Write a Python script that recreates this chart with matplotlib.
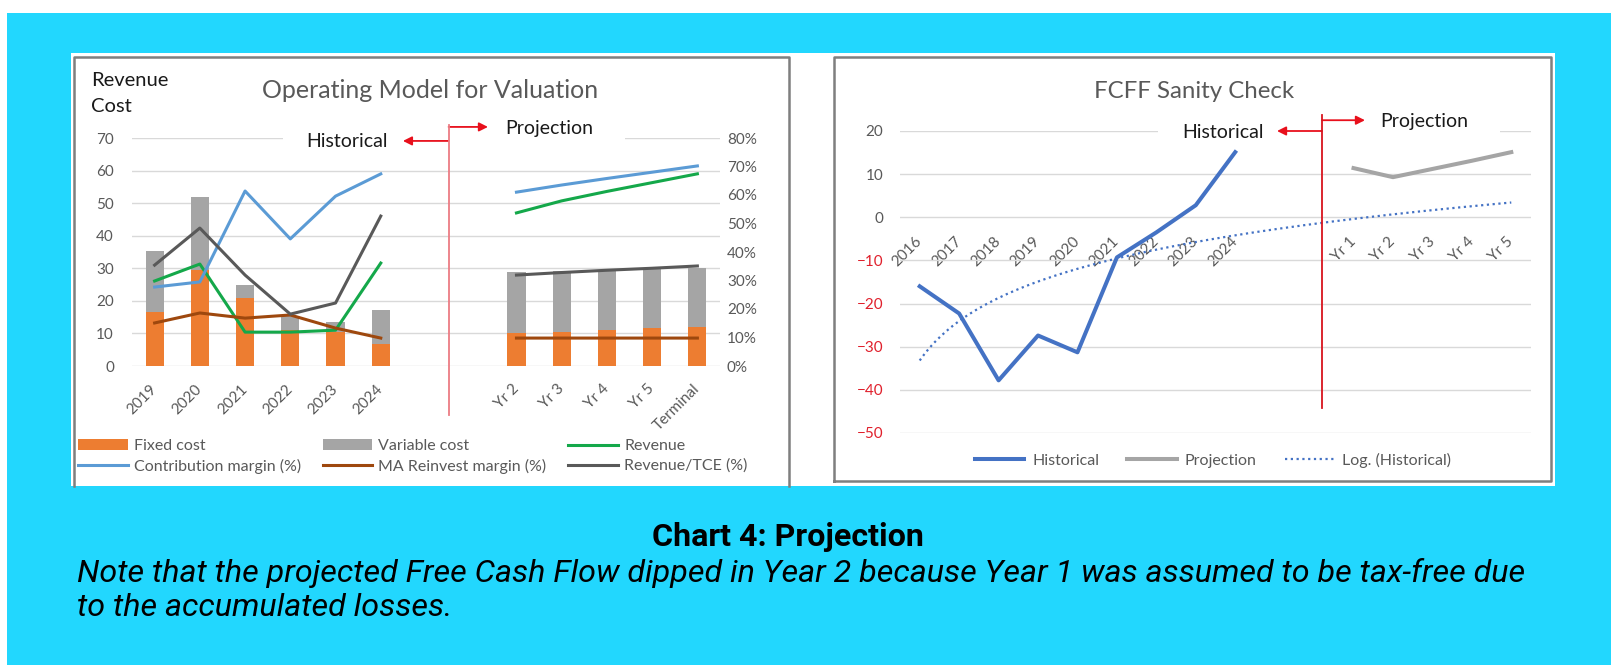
import numpy as np
import matplotlib.pyplot as plt
from matplotlib.patches import Rectangle
from matplotlib.lines import Line2D

plt.rcParams["font.family"] = ["Lato", "DejaVu Sans"]

nan = np.nan

# ---- left chart: Operating Model for Valuation
op_labels = ["2019", "2020", "2021", "2022", "2023", "2024", "", "",
             "Yr 2", "Yr 3", "Yr 4", "Yr 5", "Terminal"]
fixed_cost = [16.5, 29.5, 20.9, 11.0, 10.5, 6.8, nan, nan, 10.1, 10.5, 11.0, 11.6, 12.0]
variable_cost = [18.8, 22.3, 3.9, 4.5, 3.0, 10.4, nan, nan, 18.7, 18.6, 18.4, 18.4, 18.0]
revenue = [26.1, 31.3, 10.4, 10.4, 11.0, 31.6, nan, nan, 47.0, 50.7, 53.6, 56.3, 59.0]
contrib_margin = [27.7, 29.5, 61.4, 44.6, 59.6, 67.4, nan, nan, 61.0, 63.5, 65.8, 68.0, 70.2]
ma_reinvest = [15.1, 18.6, 16.8, 17.9, 13.3, 9.8, nan, nan, 9.8, 9.8, 9.8, 9.8, 9.8]
rev_tce = [35.4, 48.4, 31.9, 18.2, 22.1, 52.6, nan, nan, 31.9, 32.8, 33.6, 34.3, 35.1]

# ---- right chart: FCFF Sanity Check
fcff_labels = ["2016", "2017", "2018", "2019", "2020", "2021", "2022", "2023", "2024",
               "", "", "Yr 1", "Yr 2", "Yr 3", "Yr 4", "Yr 5"]
fcff_hist = [-16.0, -22.3, -37.8, -27.4, -31.3, -9.3, -3.5, 2.8, 15.1,
             nan, nan, nan, nan, nan, nan, nan]
fcff_proj = [nan] * 11 + [11.4, 9.3, 11.2, 13.1, 15.1]

CYAN = "#22D7FE"
GRID = "#D9D9D9"
TXT = "#595959"
FS = 11.5

W, H = 1611, 665
fig = plt.figure(figsize=(W / 100, H / 100), dpi=100, facecolor="white")


def fx(px):
    return px / W


def fy(py):
    return 1 - py / H


def box(x0, y0, x1, y1):
    return [fx(x0), fy(y1), (x1 - x0) / W, (y1 - y0) / H]


def frame_line(xs, ys, **kw):
    fig.add_artist(Line2D([fx(v) for v in xs], [fy(v) for v in ys],
                          transform=fig.transFigure, **kw))


# background + white panel + chart frames
fig.add_artist(Rectangle((fx(7), 0), 1 - fx(7), fy(13), transform=fig.transFigure,
                         facecolor=CYAN, edgecolor="none", zorder=-10))
fig.add_artist(Rectangle((fx(71), fy(486)), (1555 - 71) / W, (486 - 53) / H,
                         transform=fig.transFigure, facecolor="white",
                         edgecolor="none", zorder=-9))
frame_line([74, 74, 789, 789], [486, 57, 57, 486], color="#7F7F7F", lw=1.8, zorder=-8)
frame_line([834, 834, 1551, 1551, 834], [481, 57, 57, 481, 481], color="#7F7F7F",
           lw=1.8, zorder=-8)

# ================= left chart =================
ax = fig.add_axes(box(132, 138, 720, 366))
ax.set_facecolor("none")
x = np.arange(len(op_labels))
b1 = ax.bar(x, fixed_cost, width=0.4, color="#ED7D31", label="Fixed cost", zorder=2)
b2 = ax.bar(x, variable_cost, bottom=fixed_cost, width=0.4, color="#A5A5A5",
            label="Variable cost", zorder=2)
l_rev, = ax.plot(x, revenue, color="#14A84A", lw=2.2, label="Revenue", zorder=3)
ax.set_xlim(-0.5, len(op_labels) - 0.5)
ax.set_ylim(0, 70)
ax.set_yticks(range(0, 71, 10))
ax.yaxis.grid(True, color=GRID, lw=1)
ax.set_axisbelow(True)
ax.set_xticks(x)
ax.set_xticklabels(op_labels, rotation=45, ha="right", va="center",
                   rotation_mode="anchor")
ax.tick_params(length=0, labelsize=11, labelcolor=TXT)
ax.tick_params(axis="x", pad=15)
ax.tick_params(axis="y", pad=13)
for s in ax.spines.values():
    s.set_visible(False)

ax2 = ax.twinx()
l_cm, = ax2.plot(x, contrib_margin, color="#5B9BD5", lw=2.2, label="Contribution margin (%)")
l_ma, = ax2.plot(x, ma_reinvest, color="#9E480E", lw=2.2, label="MA Reinvest margin (%)")
l_rt, = ax2.plot(x, rev_tce, color="#595959", lw=2.2, label="Revenue/TCE (%)")
ax2.set_ylim(0, 80)
ax2.set_yticks(range(0, 81, 10))
ax2.set_yticklabels([f"{v}%" for v in range(0, 81, 10)])
ax2.tick_params(length=0, labelsize=11, labelcolor=TXT, pad=5)
for s in ax2.spines.values():
    s.set_visible(False)

# historical / projection divider
ax.add_patch(Rectangle((2.84, 66), 10.4 - 2.84, 6, facecolor="white", edgecolor="none",
                       zorder=1))
ax.plot([6.5, 6.5], [74.0, -15.0], color="#EC7C84", lw=1.3, clip_on=False, zorder=4)
arrow = dict(arrowstyle="-|>", color="#E8101C", lw=1.3, mutation_scale=13,
             shrinkA=0, shrinkB=0)
ax.annotate("", xy=(5.49, 69.1), xytext=(6.5, 69.1), arrowprops=arrow,
            annotation_clip=False)
ax.annotate("", xy=(7.37, 73.4), xytext=(6.5, 73.4), arrowprops=arrow,
            annotation_clip=False)
ax.text(5.16, 68.9, "Historical", ha="right", va="center", fontsize=14,
        color="#1A1A1A", zorder=5)
ax.text(7.75, 72.9, "Projection", ha="left", va="center", fontsize=14,
        color="#1A1A1A", zorder=5, clip_on=False)

fig.text(fx(91), fy(80), "Revenue", fontsize=14.5, color="#1A1A1A", va="center")
fig.text(fx(91), fy(106), "Cost", fontsize=14.5, color="#1A1A1A", va="center")
fig.text(fx(262), fy(91), "Operating Model for Valuation", fontsize=18, color=TXT,
         va="center")

fig.legend(handles=[b1, l_cm, b2, l_ma, l_rev, l_rt], ncol=3, frameon=False,
           loc="upper left", bbox_to_anchor=(fx(78), fy(439)), borderaxespad=0,
           borderpad=0, fontsize=FS, labelcolor=TXT, handlelength=3.1,
           handletextpad=0.4, columnspacing=1.35, labelspacing=0.35)

# ================= right chart =================
ax3 = fig.add_axes(box(900, 131, 1531, 433))
ax3.set_facecolor("none")
for s in ax3.spines.values():
    s.set_color("none")
ax3.spines["bottom"].set_position(("data", 0))

xr = np.arange(len(fcff_labels))
h_hist, = ax3.plot(xr, fcff_hist, color="#4472C4", lw=2.9, label="Historical", zorder=3)
h_proj, = ax3.plot(xr, fcff_proj, color="#A5A5A5", lw=2.9, label="Projection", zorder=3)

# logarithmic trendline fitted to the historical series, extended to Yr 5
hist = np.array(fcff_hist)
t = np.arange(1, len(hist) + 1)
ok = ~np.isnan(hist)
a, b = np.polyfit(np.log(t[ok]), hist[ok], 1)
tt = np.linspace(1, len(fcff_labels), 200)
h_log, = ax3.plot(tt - 1, a * np.log(tt) + b, color="#4472C4", lw=1.6,
                  ls=(0, (1, 1.6)), label="Log. (Historical)", zorder=3)

ax3.set_xlim(-0.5, len(fcff_labels) - 0.5)
ax3.set_ylim(-50, 20)
yt = list(range(-50, 21, 10))
ax3.set_yticks(yt)
ax3.yaxis.grid(True, color=GRID, lw=1)
ax3.set_axisbelow(True)
ax3.set_xticks(xr)
ax3.set_xticklabels(fcff_labels, rotation=45, ha="right", va="center",
                    rotation_mode="anchor")
ax3.tick_params(length=0, labelsize=11, labelcolor=TXT)
ax3.tick_params(axis="x", pad=16)
ax3.tick_params(axis="y", pad=12)
for lbl, v in zip(ax3.get_yticklabels(), yt):
    lbl.set_color("#E0202C" if v < 0 else TXT)

ax3.add_patch(Rectangle((6.04, 18), 14.71 - 6.04, 6, facecolor="white",
                        edgecolor="none", zorder=1, clip_on=False))
ax3.plot([10.2, 10.2], [23.7, -44.1], color="#D8141E", lw=1.3, clip_on=False, zorder=4)
ax3.annotate("", xy=(9.06, 20.0), xytext=(10.2, 20.0), arrowprops=arrow,
             annotation_clip=False)
ax3.annotate("", xy=(11.29, 22.5), xytext=(10.2, 22.5), arrowprops=arrow,
             annotation_clip=False)
ax3.text(8.73, 19.6, "Historical", ha="right", va="center", fontsize=14,
         color="#1A1A1A", zorder=5)
ax3.text(11.67, 22.1, "Projection", ha="left", va="center", fontsize=14,
         color="#1A1A1A", zorder=5, clip_on=False)

fig.text(fx(1094), fy(91), "FCFF Sanity Check", fontsize=17.3, color=TXT, va="center")

fig.legend(handles=[h_hist, h_proj, h_log], ncol=3, frameon=False, loc="center",
           bbox_to_anchor=(fx(1213), fy(460)), borderaxespad=0, borderpad=0,
           fontsize=FS, labelcolor=TXT, handlelength=3.1, handletextpad=0.5,
           columnspacing=1.75)

# ================= caption =================
fig.text(fx(788), fy(537), "Chart 4: Projection", fontsize=23.2, fontweight="bold",
         family="Roboto", ha="center", va="center", color="black")
fig.text(fx(77), fy(573),
         "Note that the projected Free Cash Flow dipped in Year 2 because Year 1 was "
         "assumed to be tax-free due",
         fontsize=23.2, style="italic", family="Roboto", va="center", color="black")
fig.text(fx(77), fy(608), "to the accumulated losses.", fontsize=23.2, style="italic",
         family="Roboto", va="center", color="black")

fig.savefig("out.png", dpi=100)
